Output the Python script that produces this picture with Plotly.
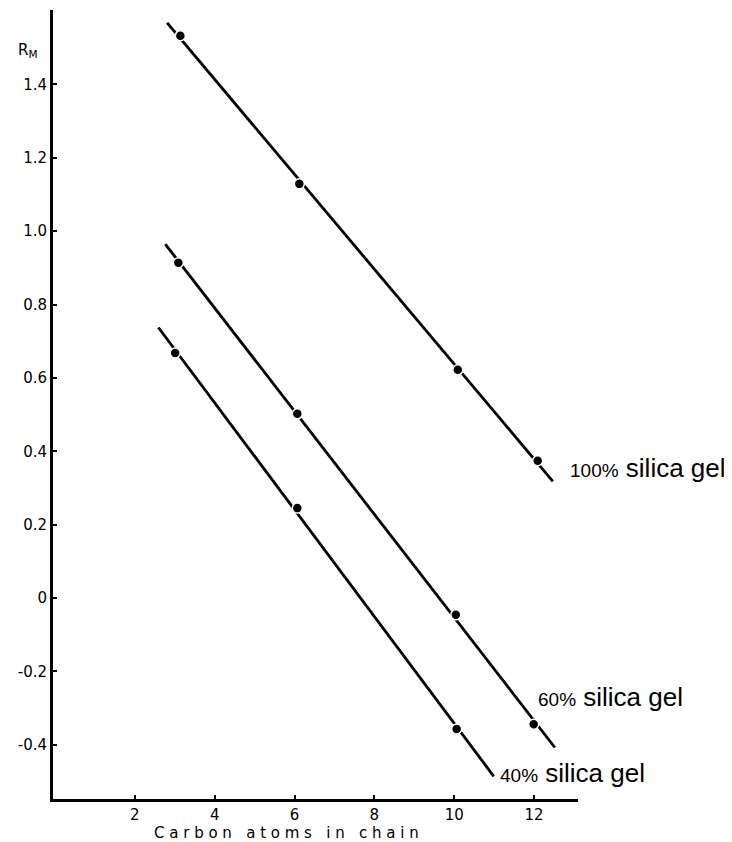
import numpy as np
import plotly.graph_objects as go

# Data
series_names = ["100%", "60%", "40%"]
carbon_100 = [3.14, 6.12, 10.09, 12.09]
rm_100 = [1.533, 1.129, 0.622, 0.374]
carbon_60 = [3.09, 6.07, 10.04, 11.99]
rm_60 = [0.914, 0.502, -0.046, -0.344]
carbon_40 = [3.01, 6.07, 10.06]
rm_40 = [0.668, 0.245, -0.357]
# extent of fitted lines (x start, x end)
line_span_100 = [2.81, 12.47]
line_span_60 = [2.76, 12.52]
line_span_40 = [2.59, 10.99]

x_tickvals = [2, 4, 6, 8, 10, 12]
y_tickvals = [-0.4, -0.2, 0, 0.2, 0.4, 0.6, 0.8, 1.0, 1.2, 1.4]
y_ticktext = ["-0.4", "-0.2", "0", "0.2", "0.4", "0.6", "0.8", "1.0", "1.2", "1.4"]

fig = go.Figure()

for xs, ys, span in [(carbon_100, rm_100, line_span_100),
                     (carbon_60, rm_60, line_span_60),
                     (carbon_40, rm_40, line_span_40)]:
    slope, icpt = np.polyfit(xs, ys, 1)
    lx = np.array(span)
    fig.add_trace(go.Scatter(x=lx, y=slope * lx + icpt, mode="lines",
                             line=dict(color="black", width=2.8),
                             showlegend=False, hoverinfo="skip"))
    fig.add_trace(go.Scatter(x=xs, y=ys, mode="markers",
                             marker=dict(color="black", size=10,
                                         line=dict(color="white", width=1.5)),
                             showlegend=False, cliponaxis=False))

tick_font = dict(family="DejaVu Sans", size=15, color="black")

fig.update_xaxes(range=[-0.05, 13.1], tickvals=x_tickvals, ticks="inside",
                 ticklen=4, tickwidth=2, tickcolor="black",
                 showline=True, linecolor="black", linewidth=3,
                 showgrid=False, zeroline=False, tickfont=tick_font)
fig.update_yaxes(range=[-0.548, 1.603], tickvals=y_tickvals, ticktext=y_ticktext,
                 ticks="inside", ticklen=4, tickwidth=2, tickcolor="black",
                 showline=True, linecolor="black", linewidth=3,
                 showgrid=False, zeroline=False, tickfont=tick_font)

# plot area in page pixels: left 53, right 578, top 10, bottom 799
PL, PR, PT, PB = 53, 578, 10, 799
W, H = PR - PL, PB - PT


def px(x):
    return (x - PL) / W


def py(y):
    return (PB - y) / H


label_font = dict(family="Liberation Sans", size=26, color="black")
labels = [("100%", 12.85, 0.355), ("60%", 12.04, -0.27), ("40%", 11.09, -0.477)]
for name, lx, ly in labels:
    fig.add_annotation(x=lx, y=ly, xref="x", yref="y", xanchor="left",
                       yanchor="middle", showarrow=False,
                       text=f"<span style='font-size:19px'>{name}</span> silica gel",
                       font=label_font)

fig.add_annotation(x=px(28), y=py(50), xref="paper", yref="paper", showarrow=False,
                   xanchor="center", yanchor="middle",
                   text="R<sub>M</sub>", font=dict(family="DejaVu Sans", size=15, color="black"))

sp = " "
nb = "\u00a0"
title_words = ["Carbon", "atoms", "in", "chain"]
title = (nb * 3).join(nb.join(list(w)) for w in title_words)
fig.add_annotation(text=title, xref="paper", yref="paper", x=px(286), y=py(833),
                   xanchor="center", yanchor="middle", showarrow=False,
                   font=dict(family="DejaVu Sans", size=15, color="black"))

# page body has an 8px margin, so the figure is shrunk by 8px and margins offset
fig.update_layout(width=724, height=834, plot_bgcolor="white", paper_bgcolor="white",
                  margin=dict(l=PL - 8, r=724 - (PR - 8), t=PT - 8, b=834 - (PB - 8)),
                  showlegend=False)

fig.write_html("out.html")
